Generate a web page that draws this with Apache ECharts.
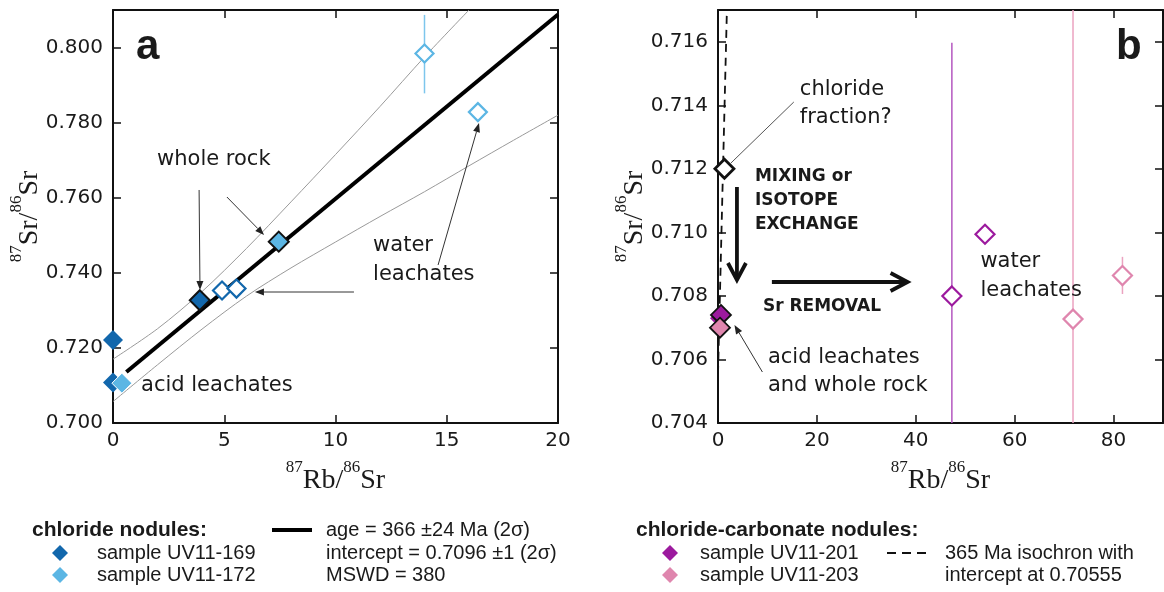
<!DOCTYPE html>
<html><head><meta charset="utf-8">
<script src="https://cdn.jsdelivr.net/npm/echarts@6.0.0/dist/echarts.min.js"></script>
<style>html,body{margin:0;padding:0;background:#fff;}#c{width:1164px;height:592px;}</style>
</head><body><div id="c"></div>
<script>
// ---------- Panel a data (87Rb/86Sr, 87Sr/86Sr) ----------
const a169Acid  = [[0.0, 0.7221], [0.0, 0.7108]];
const a169Whole = [[3.9, 0.7327]];
const a169Water = [[4.9, 0.7353], [5.55, 0.7358]];
const a172Acid  = [[0.4, 0.7106]];
const a172Whole = [[7.45, 0.7483]];
const a172Water = [[14.0, 0.7984], [16.4, 0.7828]];
const a172Err   = [[14.0, 0.7878, 0.8087]];
const aRegression = [[0.6, 0.7136], [20, 0.8088]];
const aEnvUpper = [[0,0.7170],[2,0.7251],[4,0.7350],[6,0.7465],[8,0.7589],[10,0.7715],[12,0.7843],[14,0.7975],[16,0.8100]];
const aEnvLower = [[0,0.7057],[2,0.7155],[4,0.7250],[6,0.7338],[8,0.7413],[10,0.7482],[12,0.7550],[14,0.7616],[16,0.7685],[18,0.7753],[20,0.7820]];
// ---------- Panel b data ----------
const b201Acid  = [[0.0, 0.7073]];
const b201Whole = [[0.6, 0.7074]];
const b203Whole = [[0.4, 0.7070]];
const b201Water = [[47.3, 0.7080], [54.0, 0.70994]];
const b201Err   = [[47.3, 0.7040, 0.71597]];
const b203Water = [[71.8, 0.70727], [81.8, 0.70864]];
const b203Err   = [[71.8, 0.7040, 0.7170], [81.8, 0.70806, 0.70923]];
const bChloride = [[1.3, 0.7120]];
const bIsochron = [[0, 0.70555], [1.8, 0.7170]];
// ---------- axes ----------
const aXTicks = {min: 0, max: 20, interval: 5};
const aYTicks = {min: 0.700, max: 0.810, interval: 0.020};
const bXTicks = {min: 0, max: 90, interval: 20};
const bYTicks = {min: 0.704, max: 0.717, interval: 0.002};
// ---------- annotations (data coordinates) ----------
const annA = [
  {t: 'a', x: 1.03, y: 0.8000, big: true},
  {t: 'whole rock', x: 1.98, y: 0.7701},
  {t: 'water', x: 11.69, y: 0.74725},
  {t: 'leachates', x: 11.69, y: 0.73952},
  {t: 'acid leachates', x: 1.26, y: 0.70989}
];
const arrowsA = [
  [[3.87, 0.76206], [3.91, 0.73542]],
  [[5.12, 0.76019], [6.79, 0.75007]],
  [[14.61, 0.74208], [16.45, 0.77990]],
  [[10.83, 0.73489], [6.38, 0.73489]]
];
const annB = [
  {t: 'b', x: 80.5, y: 0.715826, big: true},
  {t: 'chloride', x: 16.55, y: 0.714494},
  {t: 'fraction?', x: 16.55, y: 0.713613},
  {t: 'MIXING or', x: 7.47, y: 0.711743, bold: true},
  {t: 'ISOTOPE', x: 7.47, y: 0.710988, bold: true},
  {t: 'EXCHANGE', x: 7.47, y: 0.710232, bold: true},
  {t: 'Sr REMOVAL', x: 9.08, y: 0.707651, bold: true},
  {t: 'acid leachates', x: 10.09, y: 0.706059},
  {t: 'and whole rock', x: 10.09, y: 0.705177},
  {t: 'water', x: 53.07, y: 0.709080},
  {t: 'leachates', x: 53.07, y: 0.708167}
];
const leaderB = [[[15.33, 0.714104], [2.62, 0.712184]]];
const arrowsB = [[[8.98, 0.705605], [3.33, 0.707085]]];
const thickArrowsB = [
  [[3.83, 0.711429], [3.83, 0.708501]],
  [[10.90, 0.708438], [38.34, 0.708438]]
];

const C = {dark: '#1267AC', light: '#5CB6E4', purple: '#9C1A9E', pink: '#DF86AE', text: '#1a1a1a'};
const TICKFONT = 'DejaVu Sans';
const ANNFONT = 'DejaVu Sans';
const LEGFONT = 'Liberation Sans';

const chart = echarts.init(document.getElementById('c'));

const nameRich = {
  s: {fontFamily: 'Liberation Serif', fontSize: 17, lineHeight: 17, verticalAlign: 'top', color: C.text},
  m: {fontFamily: 'Liberation Serif', fontSize: 28, lineHeight: 44, color: C.text}
};
const axLine = {show: true, onZero: false, lineStyle: {color: '#111', width: 2}};
const axTick = {show: true, inside: true, length: 8, lineStyle: {color: '#111', width: 1.5}};

function xAx(grid, t, pos, main, name) {
  return {type: 'value', gridIndex: grid, position: pos, min: t.min, max: t.max, interval: t.interval,
    axisLine: axLine, axisTick: axTick, splitLine: {show: false},
    axisLabel: main ? {show: true, margin: 8, fontSize: 20, fontFamily: TICKFONT, color: C.text, showMaxLabel: t.max % t.interval === 0} : {show: false},
    name: main ? name : '', nameLocation: 'middle', nameGap: 36, nameMoveOverlap: false,
    nameTextStyle: {rich: nameRich}};
}
function yAx(grid, t, pos, main, name) {
  return {type: 'value', gridIndex: grid, position: pos, min: t.min, max: t.max, interval: t.interval,
    axisLine: axLine, axisTick: axTick, splitLine: {show: false},
    axisLabel: main ? {show: true, margin: 10, fontSize: 20, fontFamily: TICKFONT, color: C.text, showMaxLabel: false,
      formatter: v => v.toFixed(3)} : {show: false},
    name: main ? name : '', nameLocation: 'middle', nameGap: 61, nameRotate: 90, nameMoveOverlap: false,
    nameTextStyle: {rich: nameRich}};
}
const yName = '{s|87}{m|Sr/}{s|86}{m|Sr}';
const xName = '{s|87}{m|Rb/}{s|86}{m|Sr}';

function sc(data, xi, color, opts) {
  opts = opts || {};
  return {type: 'scatter', xAxisIndex: xi, yAxisIndex: xi, data: data, symbol: 'diamond',
    symbolSize: opts.size || 20, z: opts.z || 3, silent: true,
    itemStyle: {color: opts.open ? '#fff' : color, borderColor: opts.border || color,
      borderWidth: opts.bw == null ? (opts.open ? 2.2 : 0) : opts.bw, opacity: 1}};
}
function ln(data, xi, color, width, opts) {
  opts = opts || {};
  return {type: 'line', xAxisIndex: xi, yAxisIndex: xi, data: data, symbol: 'none', smooth: opts.smooth || false,
    z: opts.z || 2, silent: true, clip: true,
    lineStyle: {color: color, width: width, type: opts.dash ? [8, 6] : 'solid'}};
}
function err(data, xi, color, width) {
  return {type: 'custom', xAxisIndex: xi, yAxisIndex: xi, data: data, z: 2, silent: true, clip: true,
    encode: {x: 0, y: [1, 2]},
    renderItem: function (params, api) {
      const lo = api.coord([api.value(0), api.value(1)]);
      const hi = api.coord([api.value(0), api.value(2)]);
      return {type: 'line', shape: {x1: lo[0], y1: lo[1], x2: hi[0], y2: hi[1]},
        style: {stroke: color, lineWidth: width}};
    }};
}

chart.setOption({
  animation: false,
  backgroundColor: '#fff',
  grid: [
    {left: 113, top: 10, width: 445, height: 413, outerBoundsMode: 'none'},
    {left: 718, top: 10, width: 445, height: 413, outerBoundsMode: 'none'}
  ],
  xAxis: [xAx(0, aXTicks, 'bottom', true, xName), xAx(0, aXTicks, 'top', false),
          xAx(1, bXTicks, 'bottom', true, xName), xAx(1, bXTicks, 'top', false)],
  yAxis: [yAx(0, aYTicks, 'left', true, yName), yAx(0, aYTicks, 'right', false),
          yAx(1, bYTicks, 'left', true, yName), yAx(1, bYTicks, 'right', false)],
  series: [
    ln(aEnvUpper, 0, '#9a9a9a', 1, {smooth: 0.3}),
    ln(aEnvLower, 0, '#9a9a9a', 1, {smooth: 0.3}),
    ln(aRegression, 0, '#000', 4),
    err(a172Err, 0, '#7DC6EC', 1.5),
    sc(a169Acid, 0, C.dark),
    sc(a172Acid, 0, C.light, {border: '#fff', bw: 1}),
    sc(a169Water, 0, C.dark, {open: true, size: 18}),
    sc(a172Water, 0, C.light, {open: true, size: 18}),
    sc(a169Whole, 0, C.dark, {border: '#111', bw: 2}),
    sc(a172Whole, 0, C.light, {border: '#111', bw: 2}),

    ln(bIsochron, 2, '#111', 1.8, {dash: true}),
    err(b201Err, 2, '#B457C0', 1.5),
    err(b203Err, 2, '#EBA3C0', 1.5),
    sc(b201Water, 2, C.purple, {open: true, size: 19}),
    sc(b203Water, 2, C.pink, {open: true, size: 19}),
    sc(bChloride, 2, '#111', {open: true, size: 19, border: '#111', bw: 2.8}),
    sc(b201Acid, 2, C.purple, {size: 16}),
    sc(b201Whole, 2, C.purple, {border: '#111', bw: 1.8}),
    sc(b203Whole, 2, C.pink, {border: '#111', bw: 1.8})
  ]
});

// ---------- annotation graphics ----------
function P(panel, pt) { return chart.convertToPixel({xAxisIndex: panel * 2, yAxisIndex: panel * 2}, pt); }
const g = [];
function txt(x, y, t, size, family, weight) {
  g.push({type: 'text', x: x, y: y, z: 10, silent: true,
    style: {text: t, fontSize: size, fontFamily: family, fontWeight: weight || 'normal', fill: C.text,
      align: 'left', verticalAlign: 'middle'}});
}
function thinArrow(p1, p2) {
  const dx = p2[0] - p1[0], dy = p2[1] - p1[1], L = Math.hypot(dx, dy), ux = dx / L, uy = dy / L;
  const hl = 9, hw = 3.5, bx = p2[0] - ux * hl, by = p2[1] - uy * hl;
  g.push({type: 'line', z: 10, silent: true, shape: {x1: p1[0], y1: p1[1], x2: bx, y2: by}, style: {stroke: '#333', lineWidth: 1}});
  g.push({type: 'polygon', z: 10, silent: true, shape: {points: [[p2[0], p2[1]], [bx - uy * hw, by + ux * hw], [bx + uy * hw, by - ux * hw]]}, style: {fill: '#222'}});
}
function thickArrow(p1, p2) {
  const dx = p2[0] - p1[0], dy = p2[1] - p1[1], L = Math.hypot(dx, dy), ux = dx / L, uy = dy / L;
  const hl = 17, hw = 9, bx = p2[0] - ux * hl, by = p2[1] - uy * hl;
  g.push({type: 'line', z: 10, silent: true, shape: {x1: p1[0], y1: p1[1], x2: p2[0] - ux * 2, y2: p2[1] - uy * 2}, style: {stroke: '#111', lineWidth: 3.8}});
  g.push({type: 'polyline', z: 10, silent: true, shape: {points: [[bx - uy * hw, by + ux * hw], [p2[0], p2[1]], [bx + uy * hw, by - ux * hw]]},
    style: {stroke: '#111', lineWidth: 3.8, fill: null, lineJoin: 'miter'}});
}
annA.forEach(a => { const p = P(0, [a.x, a.y]); txt(p[0], p[1], a.t, a.big ? 42 : 21, a.big ? 'Liberation Sans' : ANNFONT, a.big ? 'bold' : 'normal'); });
arrowsA.forEach(a => thinArrow(P(0, a[0]), P(0, a[1])));
annB.forEach(a => { const p = P(1, [a.x, a.y]); txt(p[0], p[1], a.t, a.big ? 42 : (a.bold ? 17 : 21), a.big ? 'Liberation Sans' : ANNFONT, (a.big || a.bold) ? 'bold' : 'normal'); });
leaderB.forEach(a => { const p1 = P(1, a[0]), p2 = P(1, a[1]);
  g.push({type: 'line', z: 10, silent: true, shape: {x1: p1[0], y1: p1[1], x2: p2[0], y2: p2[1]}, style: {stroke: '#555', lineWidth: 1}}); });
arrowsB.forEach(a => thinArrow(P(1, a[0]), P(1, a[1])));
thickArrowsB.forEach(a => thickArrow(P(1, a[0]), P(1, a[1])));

// ---------- legend (layout) ----------
function dia(cx, cy, r, color) {
  g.push({type: 'polygon', z: 10, silent: true, shape: {points: [[cx, cy - r], [cx + r, cy], [cx, cy + r], [cx - r, cy]]}, style: {fill: color}});
}
txt(32, 530, 'chloride nodules:', 21, LEGFONT, 'bold');
dia(60, 553, 8, C.dark); txt(97, 553, 'sample UV11-169', 20, LEGFONT);
dia(60, 575, 8, C.light); txt(97, 575, 'sample UV11-172', 20, LEGFONT);
g.push({type: 'line', z: 10, silent: true, shape: {x1: 272, y1: 530, x2: 312, y2: 530}, style: {stroke: '#000', lineWidth: 4}});
txt(326, 530, 'age = 366 \u00b124 Ma (2\u03c3)', 20, LEGFONT);
txt(326, 553, 'intercept = 0.7096 \u00b11 (2\u03c3)', 20, LEGFONT);
txt(326, 575, 'MSWD = 380', 20, LEGFONT);
txt(636, 530, 'chloride-carbonate nodules:', 21, LEGFONT, 'bold');
dia(670, 553, 8, C.purple); txt(700, 553, 'sample UV11-201', 20, LEGFONT);
dia(670, 575, 8, C.pink); txt(700, 575, 'sample UV11-203', 20, LEGFONT);
g.push({type: 'line', z: 10, silent: true, shape: {x1: 887, y1: 553, x2: 932, y2: 553}, style: {stroke: '#111', lineWidth: 2, lineDash: [9, 6]}});
txt(945, 553, '365 Ma isochron with', 20, LEGFONT);
txt(945, 575, 'intercept at 0.70555', 20, LEGFONT);

chart.setOption({graphic: g});
</script></body></html>
